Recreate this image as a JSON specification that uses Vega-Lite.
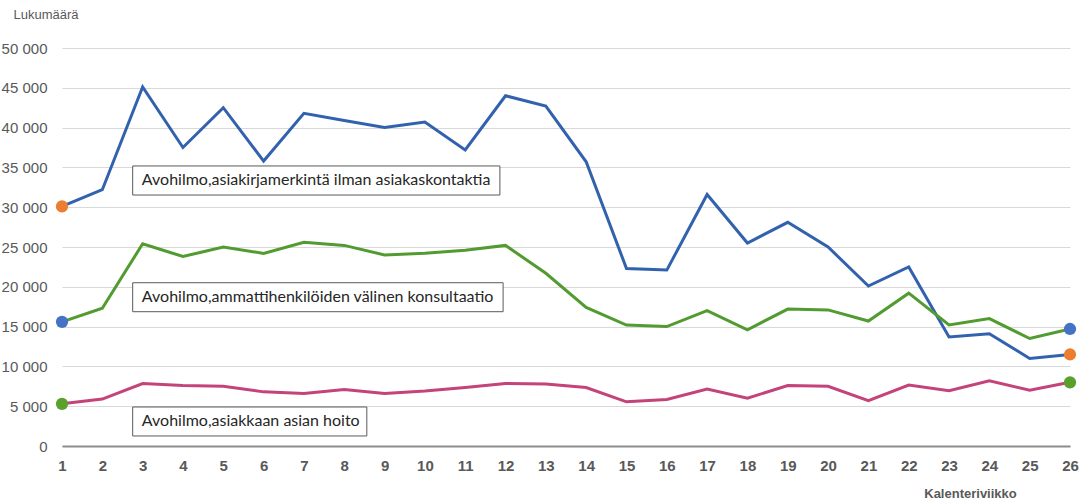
{
  "$schema": "https://vega.github.io/schema/vega-lite/v6.json",
  "width": 1008,
  "height": 398,
  "autosize": {"type": "none"},
  "padding": {"left": 62, "top": 48, "right": 22, "bottom": 53},
  "background": "white",
  "config": {
    "view": {"stroke": null},
    "locale": {"number": {"decimal": ",", "thousands": " ", "grouping": [3], "currency": ["", " €"]}}
  },
  "datasets": {
    "main": [
      {"week": 1, "series": "Avohilmo, asiakirjamerkintä ilman asiakaskontaktia", "value": 30100},
      {"week": 2, "series": "Avohilmo, asiakirjamerkintä ilman asiakaskontaktia", "value": 32200},
      {"week": 3, "series": "Avohilmo, asiakirjamerkintä ilman asiakaskontaktia", "value": 45100},
      {"week": 4, "series": "Avohilmo, asiakirjamerkintä ilman asiakaskontaktia", "value": 37500},
      {"week": 5, "series": "Avohilmo, asiakirjamerkintä ilman asiakaskontaktia", "value": 42500},
      {"week": 6, "series": "Avohilmo, asiakirjamerkintä ilman asiakaskontaktia", "value": 35800},
      {"week": 7, "series": "Avohilmo, asiakirjamerkintä ilman asiakaskontaktia", "value": 41800},
      {"week": 8, "series": "Avohilmo, asiakirjamerkintä ilman asiakaskontaktia", "value": 40900},
      {"week": 9, "series": "Avohilmo, asiakirjamerkintä ilman asiakaskontaktia", "value": 40000},
      {"week": 10, "series": "Avohilmo, asiakirjamerkintä ilman asiakaskontaktia", "value": 40700},
      {"week": 11, "series": "Avohilmo, asiakirjamerkintä ilman asiakaskontaktia", "value": 37200},
      {"week": 12, "series": "Avohilmo, asiakirjamerkintä ilman asiakaskontaktia", "value": 44000},
      {"week": 13, "series": "Avohilmo, asiakirjamerkintä ilman asiakaskontaktia", "value": 42700},
      {"week": 14, "series": "Avohilmo, asiakirjamerkintä ilman asiakaskontaktia", "value": 35700},
      {"week": 15, "series": "Avohilmo, asiakirjamerkintä ilman asiakaskontaktia", "value": 22300},
      {"week": 16, "series": "Avohilmo, asiakirjamerkintä ilman asiakaskontaktia", "value": 22100},
      {"week": 17, "series": "Avohilmo, asiakirjamerkintä ilman asiakaskontaktia", "value": 31600},
      {"week": 18, "series": "Avohilmo, asiakirjamerkintä ilman asiakaskontaktia", "value": 25500},
      {"week": 19, "series": "Avohilmo, asiakirjamerkintä ilman asiakaskontaktia", "value": 28100},
      {"week": 20, "series": "Avohilmo, asiakirjamerkintä ilman asiakaskontaktia", "value": 25000},
      {"week": 21, "series": "Avohilmo, asiakirjamerkintä ilman asiakaskontaktia", "value": 20100},
      {"week": 22, "series": "Avohilmo, asiakirjamerkintä ilman asiakaskontaktia", "value": 22500},
      {"week": 23, "series": "Avohilmo, asiakirjamerkintä ilman asiakaskontaktia", "value": 13700},
      {"week": 24, "series": "Avohilmo, asiakirjamerkintä ilman asiakaskontaktia", "value": 14100},
      {"week": 25, "series": "Avohilmo, asiakirjamerkintä ilman asiakaskontaktia", "value": 11000},
      {"week": 26, "series": "Avohilmo, asiakirjamerkintä ilman asiakaskontaktia", "value": 11500},
      {"week": 1, "series": "Avohilmo, ammattihenkilöiden välinen konsultaatio", "value": 15600},
      {"week": 2, "series": "Avohilmo, ammattihenkilöiden välinen konsultaatio", "value": 17300},
      {"week": 3, "series": "Avohilmo, ammattihenkilöiden välinen konsultaatio", "value": 25400},
      {"week": 4, "series": "Avohilmo, ammattihenkilöiden välinen konsultaatio", "value": 23800},
      {"week": 5, "series": "Avohilmo, ammattihenkilöiden välinen konsultaatio", "value": 25000},
      {"week": 6, "series": "Avohilmo, ammattihenkilöiden välinen konsultaatio", "value": 24200},
      {"week": 7, "series": "Avohilmo, ammattihenkilöiden välinen konsultaatio", "value": 25600},
      {"week": 8, "series": "Avohilmo, ammattihenkilöiden välinen konsultaatio", "value": 25200},
      {"week": 9, "series": "Avohilmo, ammattihenkilöiden välinen konsultaatio", "value": 24000},
      {"week": 10, "series": "Avohilmo, ammattihenkilöiden välinen konsultaatio", "value": 24200},
      {"week": 11, "series": "Avohilmo, ammattihenkilöiden välinen konsultaatio", "value": 24600},
      {"week": 12, "series": "Avohilmo, ammattihenkilöiden välinen konsultaatio", "value": 25200},
      {"week": 13, "series": "Avohilmo, ammattihenkilöiden välinen konsultaatio", "value": 21700},
      {"week": 14, "series": "Avohilmo, ammattihenkilöiden välinen konsultaatio", "value": 17400},
      {"week": 15, "series": "Avohilmo, ammattihenkilöiden välinen konsultaatio", "value": 15200},
      {"week": 16, "series": "Avohilmo, ammattihenkilöiden välinen konsultaatio", "value": 15000},
      {"week": 17, "series": "Avohilmo, ammattihenkilöiden välinen konsultaatio", "value": 17000},
      {"week": 18, "series": "Avohilmo, ammattihenkilöiden välinen konsultaatio", "value": 14600},
      {"week": 19, "series": "Avohilmo, ammattihenkilöiden välinen konsultaatio", "value": 17200},
      {"week": 20, "series": "Avohilmo, ammattihenkilöiden välinen konsultaatio", "value": 17100},
      {"week": 21, "series": "Avohilmo, ammattihenkilöiden välinen konsultaatio", "value": 15700},
      {"week": 22, "series": "Avohilmo, ammattihenkilöiden välinen konsultaatio", "value": 19200},
      {"week": 23, "series": "Avohilmo, ammattihenkilöiden välinen konsultaatio", "value": 15200},
      {"week": 24, "series": "Avohilmo, ammattihenkilöiden välinen konsultaatio", "value": 16000},
      {"week": 25, "series": "Avohilmo, ammattihenkilöiden välinen konsultaatio", "value": 13500},
      {"week": 26, "series": "Avohilmo, ammattihenkilöiden välinen konsultaatio", "value": 14700},
      {"week": 1, "series": "Avohilmo, asiakkaan asian hoito", "value": 5300},
      {"week": 2, "series": "Avohilmo, asiakkaan asian hoito", "value": 5900},
      {"week": 3, "series": "Avohilmo, asiakkaan asian hoito", "value": 7850},
      {"week": 4, "series": "Avohilmo, asiakkaan asian hoito", "value": 7600},
      {"week": 5, "series": "Avohilmo, asiakkaan asian hoito", "value": 7500},
      {"week": 6, "series": "Avohilmo, asiakkaan asian hoito", "value": 6800},
      {"week": 7, "series": "Avohilmo, asiakkaan asian hoito", "value": 6600},
      {"week": 8, "series": "Avohilmo, asiakkaan asian hoito", "value": 7100},
      {"week": 9, "series": "Avohilmo, asiakkaan asian hoito", "value": 6600},
      {"week": 10, "series": "Avohilmo, asiakkaan asian hoito", "value": 6900},
      {"week": 11, "series": "Avohilmo, asiakkaan asian hoito", "value": 7350},
      {"week": 12, "series": "Avohilmo, asiakkaan asian hoito", "value": 7850},
      {"week": 13, "series": "Avohilmo, asiakkaan asian hoito", "value": 7800},
      {"week": 14, "series": "Avohilmo, asiakkaan asian hoito", "value": 7350},
      {"week": 15, "series": "Avohilmo, asiakkaan asian hoito", "value": 5550},
      {"week": 16, "series": "Avohilmo, asiakkaan asian hoito", "value": 5850},
      {"week": 17, "series": "Avohilmo, asiakkaan asian hoito", "value": 7150},
      {"week": 18, "series": "Avohilmo, asiakkaan asian hoito", "value": 6000},
      {"week": 19, "series": "Avohilmo, asiakkaan asian hoito", "value": 7600},
      {"week": 20, "series": "Avohilmo, asiakkaan asian hoito", "value": 7500},
      {"week": 21, "series": "Avohilmo, asiakkaan asian hoito", "value": 5700},
      {"week": 22, "series": "Avohilmo, asiakkaan asian hoito", "value": 7650},
      {"week": 23, "series": "Avohilmo, asiakkaan asian hoito", "value": 6950},
      {"week": 24, "series": "Avohilmo, asiakkaan asian hoito", "value": 8200},
      {"week": 25, "series": "Avohilmo, asiakkaan asian hoito", "value": 7000},
      {"week": 26, "series": "Avohilmo, asiakkaan asian hoito", "value": 8000}
    ],
    "labels": [
      {"label": "Avohilmo,asiakirjamerkintä ilman asiakaskontaktia", "x1": 2.753, "x2": 11.86, "y1": 35180, "y2": 31530, "tx": 2.98, "ty": 33355},
      {"label": "Avohilmo,ammattihenkilöiden välinen konsultaatio", "x1": 2.753, "x2": 11.94, "y1": 20510, "y2": 16870, "tx": 2.98, "ty": 18690},
      {"label": "Avohilmo,asiakkaan asian hoito", "x1": 2.753, "x2": 8.56, "y1": 4900, "y2": 1260, "tx": 2.98, "ty": 3080}
    ]
  },
  "resolve": {"scale": {"color": "independent"}},
  "layer": [
    {
      "data": {"name": "main"},
      "mark": {"type": "line", "strokeWidth": 3, "strokeJoin": "miter"},
      "encoding": {
        "x": {
          "field": "week", "type": "quantitative",
          "scale": {"domain": [1, 26], "nice": false, "zero": false},
          "axis": {
            "values": [1,2,3,4,5,6,7,8,9,10,11,12,13,14,15,16,17,18,19,20,21,22,23,24,25,26],
            "tickCount": 40, "format": "d",
            "grid": false, "ticks": false, "labelOverlap": false,
            "domainColor": "#8c8c8c", "domainWidth": 2,
            "labelFont": "Liberation Sans", "labelFontSize": 15, "labelFontWeight": "bold",
            "labelColor": "#595959", "labelPadding": 12, "labelFlush": false,
            "title": "Kalenteriviikko",
            "titleFont": "Liberation Sans", "titleFontSize": 13, "titleFontWeight": "bold",
            "titleColor": "#595959", "titleX": 908, "titleY": 47, "titleAlign": "center", "titleBaseline": "middle"
          }
        },
        "y": {
          "field": "value", "type": "quantitative",
          "scale": {"domain": [0, 50000], "nice": false},
          "axis": {
            "values": [0,5000,10000,15000,20000,25000,30000,35000,40000,45000,50000],
            "tickCount": 20,
            "format": ",d",
            "domain": false, "ticks": false, "labelOverlap": false, "labelBound": false,
            "gridColor": "#d9d9d9", "gridWidth": 1,
            "labelFont": "Liberation Sans", "labelFontSize": 15, "labelColor": "#595959",
            "labelPadding": 15,
            "title": "Lukumäärä",
            "titleFont": "Liberation Sans", "titleFontSize": 13, "titleFontWeight": "normal",
            "titleColor": "#595959", "titleAngle": 0, "titleX": -49, "titleY": -34,
            "titleAlign": "left", "titleBaseline": "middle"
          }
        },
        "color": {
          "field": "series", "type": "nominal",
          "scale": {
            "domain": ["Avohilmo, asiakirjamerkintä ilman asiakaskontaktia", "Avohilmo, ammattihenkilöiden välinen konsultaatio", "Avohilmo, asiakkaan asian hoito"],
            "range": ["#3262ae", "#529b30", "#c4437a"]
          },
          "legend": null
        }
      }
    },
    {
      "data": {"name": "main"},
      "transform": [{"filter": "datum.week == 1 || datum.week == 26"}],
      "mark": {"type": "circle", "size": 150, "opacity": 1},
      "encoding": {
        "x": {"field": "week", "type": "quantitative"},
        "y": {"field": "value", "type": "quantitative"},
        "color": {
          "field": "series", "type": "nominal",
          "scale": {
            "domain": ["Avohilmo, asiakirjamerkintä ilman asiakaskontaktia", "Avohilmo, ammattihenkilöiden välinen konsultaatio", "Avohilmo, asiakkaan asian hoito"],
            "range": ["#ed7d31", "#4472c4", "#5aa02c"]
          },
          "legend": null
        }
      }
    },
    {
      "data": {"name": "labels"},
      "mark": {"type": "rect", "fill": "white", "stroke": "#595959", "strokeWidth": 1},
      "encoding": {
        "x": {"field": "x1", "type": "quantitative"},
        "x2": {"field": "x2"},
        "y": {"field": "y1", "type": "quantitative"},
        "y2": {"field": "y2"}
      }
    },
    {
      "data": {"name": "labels"},
      "mark": {"type": "text", "align": "left", "baseline": "middle", "font": "Lato", "fontSize": 16, "color": "#262626"},
      "encoding": {
        "x": {"field": "tx", "type": "quantitative"},
        "y": {"field": "ty", "type": "quantitative"},
        "text": {"field": "label"}
      }
    }
  ]
}
